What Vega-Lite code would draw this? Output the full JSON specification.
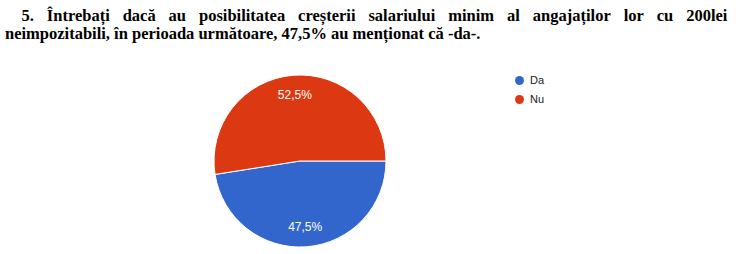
{
  "$schema": "https://vega.github.io/schema/vega-lite/v6.json",
  "width": 600,
  "height": 172,
  "autosize": {"type": "none"},
  "padding": {"left": 0, "top": 75, "right": 136, "bottom": 7},
  "background": "white",
  "title": {
    "text": ["\u200b\u2002\u20025.\u2002\u2009\u200aÎntrebați\u2002\u2009\u200adacă\u2002\u2009\u200aau\u2002\u2009\u200aposibilitatea\u2002\u2009\u200acreșterii\u2002\u2009\u200asalariului\u2002\u2009\u200aminim\u2002\u2009\u200aal\u2002\u2009\u200aangajaților\u2002\u2009\u200alor\u2002\u2009\u200acu\u2002\u2009\u200a200lei", "neimpozitabili, în perioada următoare, 47,5% au menționat că -da-."],
    "anchor": "start",
    "frame": "group",
    "font": "Liberation Serif",
    "fontSize": 16.5,
    "fontWeight": "bold",
    "lineHeight": 17.5,
    "color": "#000",
    "dx": 5,
    "offset": 31
  },
  "data": {
    "values": [
      {"answer": "Da", "value": 47.5, "label": "47,5%"},
      {"answer": "Nu", "value": 52.5, "label": "52,5%"}
    ]
  },
  "encoding": {
    "theta": {"field": "value", "type": "quantitative", "stack": true, "scale": {"range": [1.5708, 7.8540]}},
    "order": {"field": "answer", "type": "nominal"}
  },
  "layer": [
    {
      "mark": {"type": "arc", "outerRadius": 86, "stroke": "white", "strokeWidth": 1},
      "encoding": {
        "color": {
          "field": "answer", "type": "nominal",
          "scale": {"domain": ["Da", "Nu"], "range": ["#3366cc", "#dc3912"]},
          "legend": {
            "title": null, "orient": "none", "legendX": 514, "legendY": 0,
            "symbolType": "circle", "symbolSize": 80, "symbolStrokeWidth": 0,
            "labelFont": "Liberation Sans", "labelFontSize": 11, "labelColor": "#222",
            "labelOffset": 5, "rowPadding": 7
          }
        }
      }
    },
    {
      "mark": {"type": "text", "radius": 66, "font": "Liberation Sans", "fontSize": 12, "color": "white"},
      "encoding": {"text": {"field": "label", "type": "nominal"}}
    }
  ],
  "config": {"view": {"stroke": null}}
}
